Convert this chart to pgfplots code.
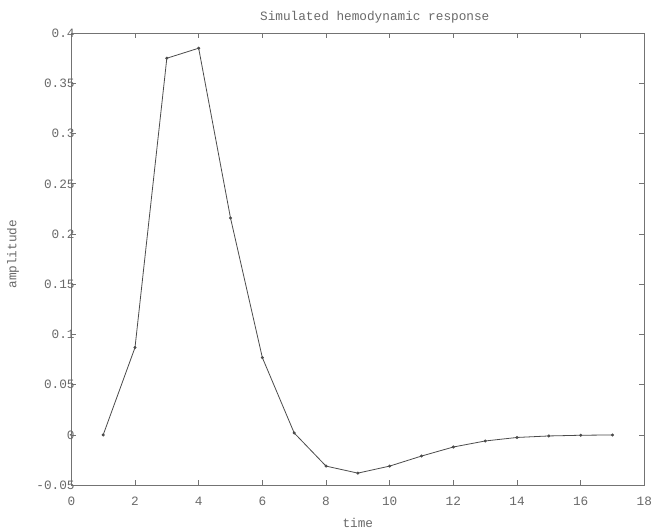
\documentclass[border=0pt]{standalone}
\usepackage{fontspec}
\setmainfont{Liberation Mono}
\usepackage{pgfplots}
\pgfplotsset{compat=1.18}
\definecolor{txtgray}{RGB}{105,105,105}
\definecolor{axgray}{RGB}{115,115,115}
\definecolor{lngray}{RGB}{75,75,75}
\begin{document}
\fontsize{12.8bp}{15bp}\selectfont
\begin{tikzpicture}
\begin{axis}[
  scale only axis,
  width=576bp, height=454.4bp,
  xmin=0, xmax=18, ymin=-0.05, ymax=0.4,
  xtick={0,2,...,18},
  ytick={-0.05,0,0.05,0.1,0.15,0.2,0.25,0.3,0.35,0.4},
  yticklabels={-0.05,0,0.05,0.1,0.15,0.2,0.25,0.3,0.35,0.4},
  xticklabels={0,2,4,6,8,10,12,14,16,18},
  tick align=inside,
  major tick length=5bp,
  tick style={axgray, line width=0.8bp},
  axis line style={axgray, line width=1bp},
  tick label style={text=txtgray, font=\fontsize{12.8bp}{15bp}\selectfont},
  yticklabel style={anchor=east, inner sep=0pt, xshift=3.5bp},
  xticklabel style={anchor=north, inner sep=0pt, yshift=-12bp},
  title={Simulated hemodynamic response},
  title style={text=txtgray, font=\fontsize{12.8bp}{15bp}\selectfont, anchor=center, at={(0.5,1)}, yshift=10bp, xshift=17bp},
  xlabel={time},
  ylabel={amplitude},
  xlabel style={text=txtgray, font=\fontsize{12.8bp}{15bp}\selectfont, anchor=center, at={(0.5,0)}, yshift=-38bp},
  ylabel style={text=txtgray, font=\fontsize{12.8bp}{15bp}\selectfont, anchor=center, at={(0,0.5)}, yshift=58.5bp, xshift=5bp},
  /pgf/number format/assume math mode=true,
  clip=false,
]
\addplot[lngray, line width=0.8bp, mark=*, mark size=1.1bp, mark options={fill=lngray, draw=lngray}] coordinates {
(1,0) (2,0.087) (3,0.375) (4,0.385) (5,0.216) (6,0.077) (7,0.002) (8,-0.031) (9,-0.038) (10,-0.031) (11,-0.021) (12,-0.012) (13,-0.006) (14,-0.0025) (15,-0.001) (16,-0.0003) (17,0)
};
\end{axis}
\path[use as bounding box] ([xshift=-71.7bp,yshift=-40.3bp]current axis.south west) rectangle ([xshift=4.3bp,yshift=33.3bp]current axis.north east);
\end{tikzpicture}
\end{document}
